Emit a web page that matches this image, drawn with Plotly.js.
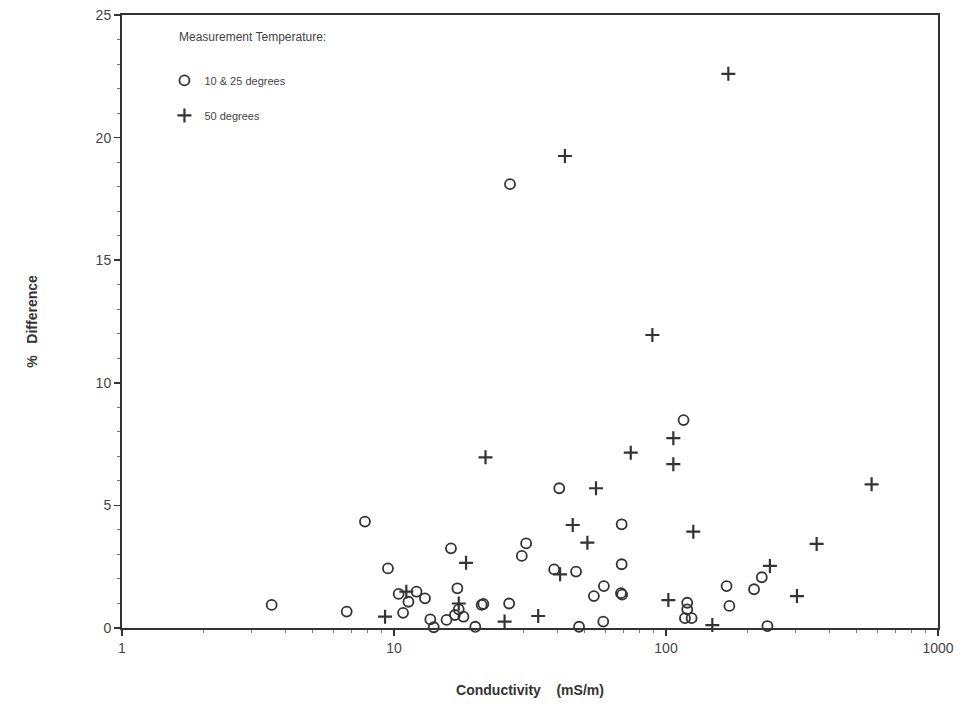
<!DOCTYPE html>
<html>
<head>
<meta charset="utf-8">
<script src="https://cdn.plot.ly/plotly-3.0.1.min.js"></script>
<style>body{margin:0;background:#fff;} #chart{width:965px;height:727px;}</style>
</head>
<body>
<div id="chart"></div>
<script>
// 10 & 25 degrees (circles)
const circleX = [3.55, 6.7, 7.82, 9.5, 10.4, 10.8, 11.3, 12.1, 13.0, 13.6, 14.0, 15.6, 16.75, 18.0, 17.3, 16.2, 17.1, 19.9, 21.0, 21.3, 26.5, 26.7, 29.5, 30.6, 38.8, 40.5, 46.7, 47.9, 54.3, 59.1, 58.8, 68.7, 68.7, 68.3, 69.0, 116, 119.7, 119.7, 117.4, 124.2, 167, 171, 210.7, 225, 236];
const circleY = [0.94, 0.67, 4.34, 2.43, 1.39, 0.62, 1.07, 1.48, 1.21, 0.35, 0.03, 0.33, 0.53, 0.46, 0.76, 3.25, 1.62, 0.05, 0.94, 0.98, 1.0, 18.1, 2.94, 3.45, 2.39, 5.7, 2.3, 0.05, 1.3, 1.71, 0.26, 4.23, 2.6, 1.42, 1.36, 8.48, 1.03, 0.76, 0.4, 0.4, 1.71, 0.9, 1.58, 2.07, 0.08];
// 50 degrees (plus)
const plusX = [9.27, 11.1, 17.3, 18.4, 21.7, 25.5, 33.9, 40.8, 42.5, 45.4, 51.4, 55.3, 74.2, 89.1, 102, 106.4, 106.4, 126, 148, 169.5, 241, 303, 358, 570];
const plusY = [0.46, 1.48, 1.0, 2.66, 6.96, 0.26, 0.49, 2.19, 19.25, 4.2, 3.48, 5.7, 7.15, 11.95, 1.14, 7.74, 6.68, 3.93, 0.12, 22.6, 2.53, 1.3, 3.43, 5.86];
const seriesNames = ["10 & 25 degrees", "50 degrees"];
const xTickVals = [1, 10, 100, 1000];
const xTickText = ["1", "10", "100", "1000"];
const yTickVals = [0, 5, 10, 15, 20, 25];

const ink = "#333333";
const traces = [
  {
    x: circleX, y: circleY, type: "scatter", mode: "markers", name: seriesNames[0],
    legendgroup: "a", cliponaxis: false,
    marker: {symbol: "circle-open", size: 10, color: ink, line: {width: 1.8, color: ink}}
  },
  {
    x: plusX, y: plusY, type: "scatter", mode: "markers", name: seriesNames[1],
    legendgroup: "b", cliponaxis: false,
    marker: {symbol: "cross-thin-open", size: 10, color: ink, line: {width: 2.2, color: ink}}
  }
];

const layout = {
  width: 965, height: 727,
  margin: {l: 122, r: 27, t: 15, b: 99},
  paper_bgcolor: "#fff", plot_bgcolor: "#fff",
  font: {family: "Liberation Sans, Arial, sans-serif", color: "#444"},
  showlegend: true,
  legend: {
    x: 0.052, y: 0.917, xanchor: "left", yanchor: "top",
    bgcolor: "rgba(0,0,0,0)", borderwidth: 0,
    font: {size: 11, color: "#444"}, tracegroupgap: 16, itemwidth: 30
  },
  annotations: [{
    text: "Measurement Temperature:", xref: "paper", yref: "paper",
    x: 0.068, y: 0.964, xanchor: "left", yanchor: "middle", showarrow: false,
    font: {size: 12, color: "#444"}
  }],
  xaxis: {
    type: "log", range: [0, 3],
    tickvals: xTickVals, ticktext: xTickText,
    ticks: "outside", ticklen: 6, tickwidth: 1.5, tickcolor: ink,
    minor: {ticks: "outside", ticklen: 3, tickcolor: "#777", tickwidth: 1, dtick: "D1", showgrid: false},
    showgrid: false, zeroline: false,
    showline: true, linecolor: ink, linewidth: 2, mirror: true,
    tickfont: {size: 14, color: "#444"},
    title: {text: "Conductivity&nbsp;&nbsp;&nbsp;&nbsp;(mS/m)", font: {size: 14, color: "#333", weight: "bold"}, standoff: 30}
  },
  yaxis: {
    range: [0, 25], tickvals: yTickVals,
    ticks: "outside", ticklen: 6, tickwidth: 1.5, tickcolor: ink,
    minor: {ticks: "outside", ticklen: 3, tickcolor: "#777", tickwidth: 1, dtick: 1, showgrid: false},
    showgrid: false, zeroline: false,
    showline: true, linecolor: ink, linewidth: 2, mirror: true,
    tickfont: {size: 14, color: "#444"},
    title: {text: "%&nbsp;&nbsp;&nbsp;Difference", font: {size: 14, color: "#333", weight: "bold"}, standoff: 55}
  }
};

Plotly.newPlot("chart", traces, layout, {displayModeBar: false, staticPlot: true});
</script>
</body>
</html>
